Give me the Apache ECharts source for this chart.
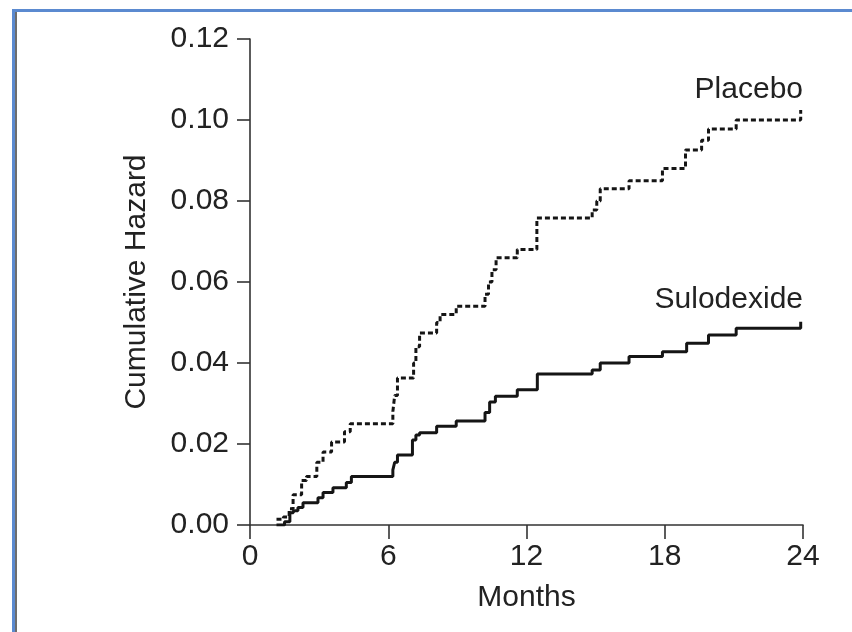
<!DOCTYPE html>
<html>
<head>
<meta charset="utf-8">
<script src="https://cdn.jsdelivr.net/npm/echarts@6/dist/echarts.min.js"></script>
<style>
html,body{margin:0;padding:0;background:#fff;}
#chart{width:852px;height:632px;}
</style>
</head>
<body>
<div id="chart"></div>
<script>
// Months at which cumulative hazard changes, and its new value
const placeboMonths = [1.15, 1.45, 1.7, 1.87, 2.24, 2.45, 2.9, 3.17, 3.54, 4.1, 4.35, 6.2, 6.28, 6.4, 7.1, 7.2, 7.36, 8.1, 8.25, 8.95, 10.2, 10.35, 10.5, 10.68, 11.6, 12.45, 14.85, 15.05, 15.2, 16.45, 17.9, 18.9, 19.6, 19.9, 21.1, 23.9];
const placeboHazard = [0.0014, 0.002, 0.004, 0.0075, 0.011, 0.012, 0.0155, 0.018, 0.0205, 0.023, 0.025, 0.028, 0.032, 0.0363, 0.040, 0.044, 0.0474, 0.050, 0.052, 0.054, 0.057, 0.060, 0.063, 0.066, 0.068, 0.0758, 0.0778, 0.080, 0.083, 0.085, 0.088, 0.0926, 0.095, 0.0978, 0.100, 0.1025];
const sulodexideMonths = [1.15, 1.5, 1.73, 1.88, 2.08, 2.3, 2.95, 3.17, 3.6, 4.18, 4.4, 6.2, 6.28, 6.4, 7.05, 7.2, 7.36, 8.1, 8.95, 10.2, 10.4, 10.65, 11.6, 12.47, 14.85, 15.2, 16.45, 17.9, 18.95, 19.9, 21.1, 23.9];
const sulodexideHazard = [0.0, 0.0008, 0.003, 0.0035, 0.0043, 0.0055, 0.0067, 0.008, 0.0092, 0.0105, 0.012, 0.0136, 0.0155, 0.0173, 0.021, 0.0222, 0.0228, 0.0244, 0.0257, 0.0278, 0.0304, 0.0318, 0.0334, 0.0373, 0.0383, 0.040, 0.0416, 0.0428, 0.0449, 0.0469, 0.0486, 0.0502];
const xTicks = [0, 6, 12, 18, 24];
const yTicks = [0, 0.02, 0.04, 0.06, 0.08, 0.10, 0.12];
const seriesNames = ['Placebo', 'Sulodexide'];
const labelAnchors = [[24, 0.1074], [24, 0.0556]];

const pair = (xs, ys) => xs.map((x, i) => [x, ys[i]]);
const FONT = 'Liberation Sans, Arial, Helvetica, sans-serif';
const INK = '#222222';
const AX = '#333333';
const FS = 30;

const chart = echarts.init(document.getElementById('chart'), null, {renderer: 'canvas'});
const option = {
  backgroundColor: '#ffffff',
  animation: false,
  grid: {left: 250, right: 49, top: 39, bottom: 107, containLabel: false},
  xAxis: {
    type: 'value',
    min: xTicks[0], max: xTicks[xTicks.length - 1], interval: 6,
    name: 'Months', nameLocation: 'middle', nameGap: 58,
    nameTextStyle: {fontFamily: FONT, fontSize: FS, color: INK},
    axisLine: {show: true, onZero: false, lineStyle: {color: AX, width: 1.6}},
    axisTick: {show: true, length: 14, lineStyle: {color: AX, width: 1.6}},
    axisLabel: {fontFamily: FONT, fontSize: FS, color: INK, margin: 17,
      formatter: v => String(v)},
    splitLine: {show: false}
  },
  yAxis: {
    type: 'value',
    min: yTicks[0], max: yTicks[yTicks.length - 1], interval: 0.02,
    name: 'Cumulative Hazard', nameLocation: 'middle', nameGap: 98, nameRotate: 90,
    nameTextStyle: {fontFamily: FONT, fontSize: FS, color: INK},
    axisLine: {show: true, onZero: false, lineStyle: {color: AX, width: 1.6}},
    axisTick: {show: true, length: 13, lineStyle: {color: AX, width: 1.6}},
    axisLabel: {fontFamily: FONT, fontSize: FS, color: INK, margin: 21,
      formatter: v => v.toFixed(2)},
    splitLine: {show: false}
  },
  series: [
    {
      name: seriesNames[0], type: 'line', step: 'end', showSymbol: false, symbol: 'none',
      data: pair(placeboMonths, placeboHazard),
      lineStyle: {color: '#151515', width: 3, type: [5, 3]}
    },
    {
      name: seriesNames[1], type: 'line', step: 'end', showSymbol: false, symbol: 'none',
      data: pair(sulodexideMonths, sulodexideHazard),
      lineStyle: {color: '#151515', width: 3, type: 'solid'}
    }
  ]
};
chart.setOption(option);

const graphics = [
  {type: 'rect', shape: {x: 12, y: 9, width: 840, height: 3}, style: {fill: '#5b8ad0'}, silent: true},
  {type: 'rect', shape: {x: 12, y: 9, width: 3, height: 623}, style: {fill: '#5b8ad0'}, silent: true},
  {type: 'rect', shape: {x: 15, y: 12, width: 2, height: 620}, style: {fill: '#6d6d6d'}, silent: true}
];
labelAnchors.forEach((c, i) => {
  const p = chart.convertToPixel({gridIndex: 0}, c);
  graphics.push({type: 'text', x: p[0], y: p[1], silent: true,
    style: {text: seriesNames[i], fontFamily: FONT, fontSize: FS, fill: INK,
      align: 'right', verticalAlign: 'middle'}});
});
chart.setOption({graphic: graphics});
</script>
</body>
</html>
